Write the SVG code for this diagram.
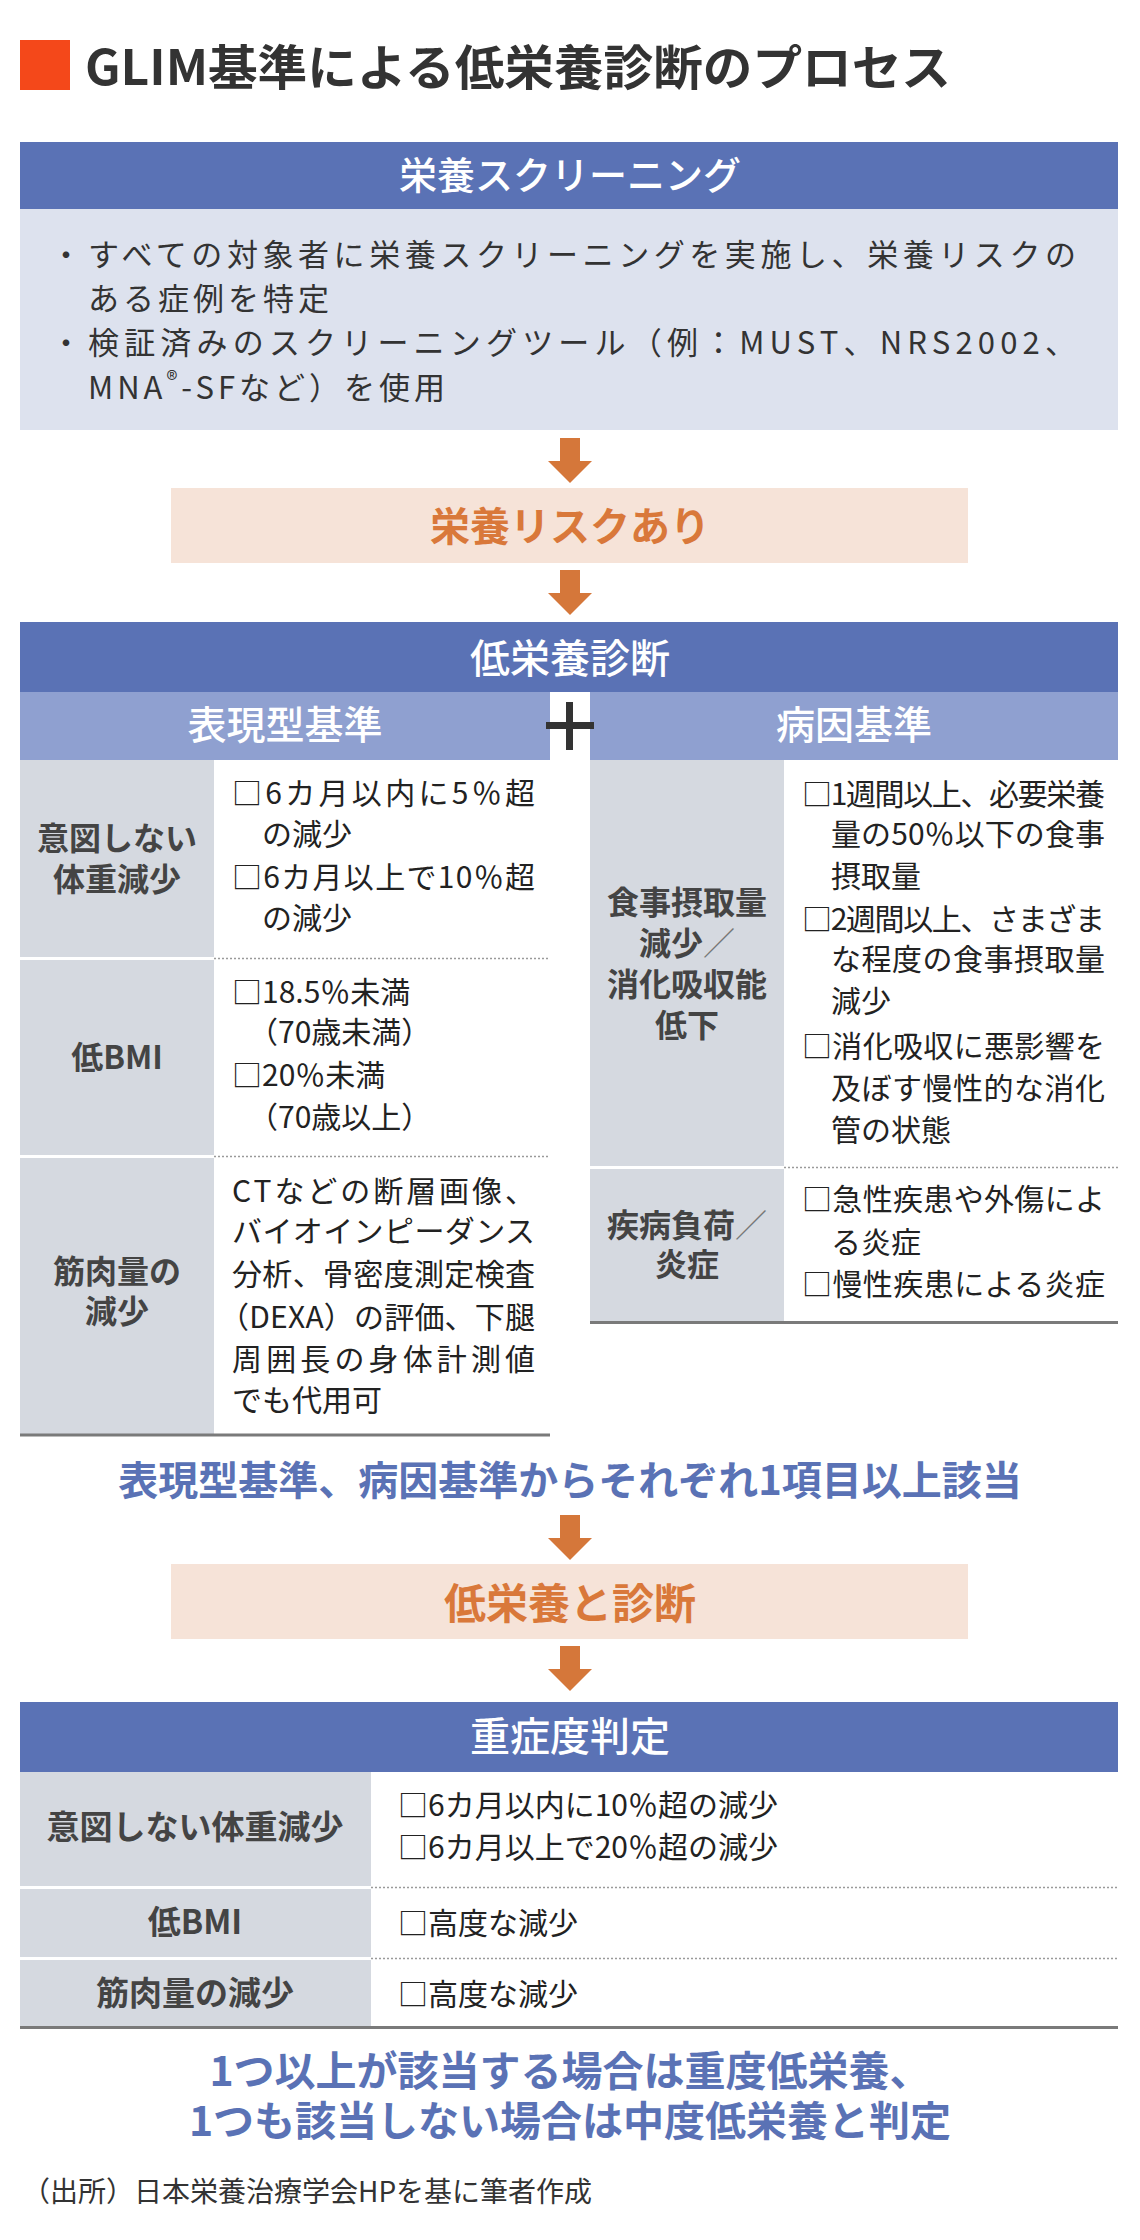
<svg xmlns="http://www.w3.org/2000/svg" width="1140" height="2240" viewBox="0 0 1140 2240">
<defs>
<style>
text{font-family:"Noto Sans CJK JP","Noto Sans",sans-serif;}
.hd{fill:#5a72b5;}
.sub{fill:#8fa0d0;}
.lab{fill:#d5d9e0;}
.peach{fill:#f6e3d8;}
.ht{fill:#fff;font-size:40px;font-weight:500;text-anchor:middle;}
.st{fill:#fff;font-size:39px;font-weight:500;text-anchor:middle;}
.body{fill:#333;font-size:31px;}
.lb{fill:#444;font-size:32px;font-weight:700;text-anchor:middle;}
.lb2{fill:#444;font-size:33px;font-weight:700;text-anchor:middle;}
.ct{fill:#222;font-size:30px;}
.or{fill:#d9783a;font-size:41px;font-weight:700;text-anchor:middle;}
.bl{fill:#5a72b5;font-size:40px;font-weight:700;text-anchor:middle;}
.dot{stroke:#9a9a9a;stroke-width:1.5;stroke-dasharray:2 2;fill:none;}
.bot{stroke:#7a7a7a;stroke-width:3;fill:none;}
.sl{font-weight:400;fill:#777;}
</style>
<path id="arr" d="M-10 0 H10 V23 H22 L0 45 L-22 23 H-10 Z" fill="#d5773a"/>
</defs>
<rect width="1140" height="2240" fill="#fff"/>

<g id="title">
<rect x="20" y="40" width="50" height="50" fill="#f4481a"/>
<text x="85" y="85" font-size="48" font-weight="700" fill="#333" textLength="866" lengthAdjust="spacingAndGlyphs">GLIM基準による低栄養診断のプロセス</text>
</g>

<g id="screening">
<rect class="hd" x="20" y="142" width="1098" height="67"/>
<text class="ht" x="570" y="189" style="font-size:38px">栄養スクリーニング</text>
<rect x="20" y="209" width="1098" height="221" fill="#dde2ee"/>
<text class="body" x="66" y="266" text-anchor="middle">・</text>
<text class="body" x="88" y="266" textLength="988">すべての対象者に栄養スクリーニングを実施し、栄養リスクの</text>
<text class="body" x="88" y="310" letter-spacing="4">ある症例を特定</text>
<text class="body" x="66" y="354" text-anchor="middle">・</text>
<text class="body" x="88" y="354" textLength="988">検証済みのスクリーニングツール（例：MUST、NRS2002、</text>
<text class="body" x="88" y="399" letter-spacing="4">MNA<tspan font-size="23" dy="-11">®</tspan><tspan dy="11">-SFなど）を使用</tspan></text>
</g>

<g id="risk">
<rect class="peach" x="171" y="488" width="797" height="75"/>
<text class="or" x="570" y="541" style="font-size:40px">栄養リスクあり</text>
</g>

<g id="diagnosis">
<rect class="hd" x="20" y="622" width="1098" height="70"/>
<text class="ht" x="570" y="673">低栄養診断</text>
<rect class="sub" x="20" y="692" width="530" height="68"/>
<rect class="sub" x="590" y="692" width="528" height="68"/>
<text class="st" x="285" y="739">表現型基準</text>
<text class="st" x="854" y="739">病因基準</text>
<rect x="566" y="702" width="7" height="48" fill="#333"/>
<rect x="546" y="722" width="48" height="7" fill="#333"/>
</g>

<g id="phenotype">
<rect class="lab" x="20" y="760" width="194" height="197"/>
<rect class="lab" x="20" y="960" width="194" height="195"/>
<rect class="lab" x="20" y="1158" width="194" height="276"/>
<line class="dot" x1="214" y1="958.5" x2="550" y2="958.5"/>
<line class="dot" x1="214" y1="1156.5" x2="550" y2="1156.5"/>
<line class="bot" x1="20" y1="1435" x2="550" y2="1435"/>
<text class="lb" x="117" y="850">意図しない</text>
<text class="lb" x="117" y="891">体重減少</text>
<text class="ct" x="232" y="804" textLength="303">□6カ月以内に5％超</text>
<text class="ct" x="262" y="845">の減少</text>
<text class="ct" x="232" y="888" textLength="303">□6カ月以上で10％超</text>
<text class="ct" x="262" y="929">の減少</text>
<text class="lb" x="117" y="1069">低BMI</text>
<text class="ct" x="232" y="1003">□18.5％未満</text>
<text class="ct" x="248" y="1043">（70歳未満）</text>
<text class="ct" x="232" y="1086">□20％未満</text>
<text class="ct" x="248" y="1128">（70歳以上）</text>
<text class="lb" x="117" y="1283">筋肉量の</text>
<text class="lb" x="117" y="1323">減少</text>
<text class="ct" x="232" y="1202" textLength="303">CTなどの断層画像、</text>
<text class="ct" x="232" y="1242" textLength="303">バイオインピーダンス</text>
<text class="ct" x="232" y="1285" textLength="303">分析、骨密度測定検査</text>
<text class="ct" x="219" y="1328" textLength="316">（DEXA）の評価、下腿</text>
<text class="ct" x="232" y="1370" textLength="303">周囲長の身体計測値</text>
<text class="ct" x="232" y="1411">でも代用可</text>
</g>

<g id="etiology">
<rect class="lab" x="590" y="760" width="194" height="406"/>
<rect class="lab" x="590" y="1169" width="194" height="152"/>
<line class="dot" x1="784" y1="1167.5" x2="1118" y2="1167.5"/>
<line class="bot" x1="590" y1="1322.5" x2="1118" y2="1322.5"/>
<text class="lb" x="687" y="914">食事摂取量</text>
<text class="lb" x="687" y="955">減少<tspan class="sl">／</tspan></text>
<text class="lb" x="687" y="996">消化吸収能</text>
<text class="lb" x="687" y="1037">低下</text>
<text class="ct" x="802" y="805" textLength="303">□1週間以上、必要栄養</text>
<text class="ct" x="831" y="845" textLength="274">量の50％以下の食事</text>
<text class="ct" x="831" y="887">摂取量</text>
<text class="ct" x="802" y="930" textLength="303">□2週間以上、さまざま</text>
<text class="ct" x="831" y="970" textLength="274">な程度の食事摂取量</text>
<text class="ct" x="831" y="1012">減少</text>
<text class="ct" x="802" y="1057" textLength="303">□消化吸収に悪影響を</text>
<text class="ct" x="831" y="1099" textLength="274">及ぼす慢性的な消化</text>
<text class="ct" x="831" y="1141">管の状態</text>
<text class="lb" x="687" y="1237">疾病負荷<tspan class="sl">／</tspan></text>
<text class="lb" x="687" y="1276">炎症</text>
<text class="ct" x="802" y="1210" textLength="303">□急性疾患や外傷によ</text>
<text class="ct" x="831" y="1253">る炎症</text>
<text class="ct" x="802" y="1295" textLength="303">□慢性疾患による炎症</text>
</g>

<g id="criteria-note">
<text class="bl" x="570" y="1495">表現型基準、病因基準からそれぞれ1項目以上該当</text>
</g>

<g id="diagnosed">
<rect class="peach" x="171" y="1564" width="797" height="75"/>
<text class="or" x="570" y="1619" style="font-size:42px">低栄養と診断</text>
</g>

<g id="severity">
<rect class="hd" x="20" y="1702" width="1098" height="70"/>
<text class="ht" x="570" y="1751">重症度判定</text>
<rect class="lab" x="20" y="1772" width="351" height="114"/>
<rect class="lab" x="20" y="1889" width="351" height="68"/>
<rect class="lab" x="20" y="1960" width="351" height="66"/>
<line class="dot" x1="371" y1="1887.5" x2="1118" y2="1887.5"/>
<line class="dot" x1="371" y1="1958.5" x2="1118" y2="1958.5"/>
<line class="bot" x1="20" y1="2027.5" x2="1118" y2="2027.5"/>
<text class="lb2" x="195" y="1839">意図しない体重減少</text>
<text class="ct" x="398" y="1816">□6カ月以内に10％超の減少</text>
<text class="ct" x="398" y="1858">□6カ月以上で20％超の減少</text>
<text class="lb2" x="195" y="1934">低BMI</text>
<text class="ct" x="398" y="1934">□高度な減少</text>
<text class="lb2" x="195" y="2005">筋肉量の減少</text>
<text class="ct" x="398" y="2005">□高度な減少</text>
</g>

<g id="result">
<text class="bl" x="570" y="2086" style="font-size:41px">1つ以上が該当する場合は重度低栄養、</text>
<text class="bl" x="570" y="2136" style="font-size:41px">1つも該当しない場合は中度低栄養と判定</text>
</g>

<g id="source">
<text x="22" y="2202" font-size="28" fill="#333">（出所）日本栄養治療学会HPを基に筆者作成</text>
</g>

<g id="connectors">
<use href="#arr" x="570" y="438"/>
<use href="#arr" x="570" y="570"/>
<use href="#arr" x="570" y="1515"/>
<use href="#arr" x="570" y="1646"/>
</g>
</svg>
